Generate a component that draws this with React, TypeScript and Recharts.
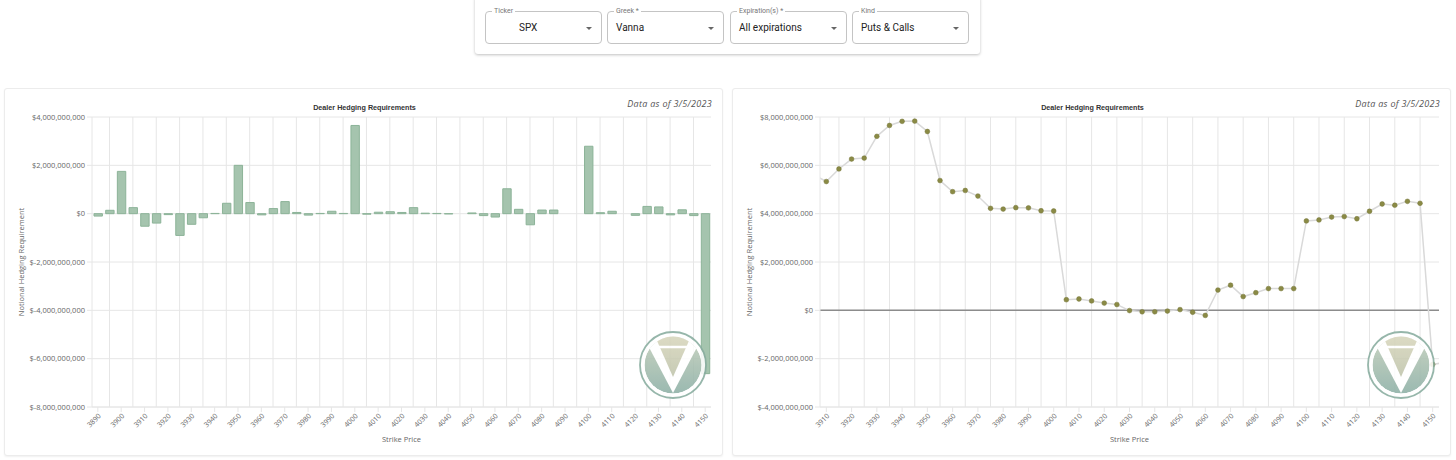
import React from 'react';
import {
  BarChart, Bar, LineChart, Line, XAxis, YAxis, CartesianGrid, ReferenceLine, Label,
} from 'recharts';

// strike prices (left chart: per-strike requirement, right chart: running total)
const barStrikes = [
  3890, 3895, 3900, 3905, 3910, 3915, 3920, 3925, 3930, 3935, 3940, 3945, 3950, 3955,
  3960, 3965, 3970, 3975, 3980, 3985, 3990, 3995, 4000, 4005, 4010, 4015, 4020, 4025,
  4030, 4035, 4040, 4045, 4050, 4055, 4060, 4065, 4070, 4075, 4080, 4085, 4090, 4095,
  4100, 4105, 4110, 4115, 4120, 4125, 4130, 4135, 4140, 4145, 4150,
];
// billions of dollars
const barValues = [
  -0.1, 0.14, 1.75, 0.25, -0.52, -0.39, -0.04, -0.9, -0.44, -0.17, 0.01, 0.43, 2.0, 0.46,
  -0.05, 0.21, 0.5, 0.05, -0.06, 0.01, 0.1, 0.01, 3.65, -0.02, 0.06, 0.08, 0.05, 0.25,
  0.02, 0.01, -0.01, 0.0, 0.03, -0.08, -0.14, 1.03, 0.18, -0.46, 0.15, 0.15, 0.0, 0.0,
  2.79, 0.04, 0.1, 0.0, -0.07, 0.3, 0.28, -0.05, 0.16, -0.08, -6.62,
];
const barTicks = [
  3890, 3900, 3910, 3920, 3930, 3940, 3950, 3960, 3970, 3980, 3990, 4000, 4010, 4020,
  4030, 4040, 4050, 4060, 4070, 4080, 4090, 4100, 4110, 4120, 4130, 4140, 4150,
];
const barGridStrikes = [
  3895, 3905, 3915, 3925, 3935, 3945, 3955, 3965, 3975, 3985, 3995, 4005, 4015, 4025,
  4035, 4045, 4055, 4065, 4075, 4085, 4095, 4105, 4115, 4125, 4135, 4145,
];
const barYTicks = [-8e9, -6e9, -4e9, -2e9, 0, 2e9, 4e9];

const lineStrikes = [
  3905, 3910, 3915, 3920, 3925, 3930, 3935, 3940, 3945, 3950, 3955, 3960, 3965, 3970,
  3975, 3980, 3985, 3990, 3995, 4000, 4005, 4010, 4015, 4020, 4025, 4030, 4035, 4040,
  4045, 4050, 4055, 4060, 4065, 4070, 4075, 4080, 4085, 4090, 4095, 4100, 4105, 4110,
  4115, 4120, 4125, 4130, 4135, 4140, 4145, 4150, 4155,
];
const lineValues = [
  5.62, 5.33, 5.85, 6.26, 6.3, 7.2, 7.65, 7.82, 7.83, 7.4, 5.37, 4.91, 4.96, 4.73,
  4.22, 4.19, 4.25, 4.24, 4.12, 4.11, 0.44, 0.47, 0.39, 0.3, 0.24, -0.01, -0.06, -0.06,
  -0.03, 0.03, -0.08, -0.21, 0.84, 1.04, 0.57, 0.73, 0.9, 0.9, 0.9, 3.7, 3.74, 3.86,
  3.88, 3.79, 4.1, 4.4, 4.35, 4.51, 4.43, -2.24, -2.15,
];
const lineTicks = [
  3910, 3920, 3930, 3940, 3950, 3960, 3970, 3980, 3990, 4000, 4010, 4020, 4030, 4040,
  4050, 4060, 4070, 4080, 4090, 4100, 4110, 4120, 4130, 4140, 4150,
];
const lineGridStrikes = [
  3915, 3925, 3935, 3945, 3955, 3965, 3975, 3985, 3995, 4005, 4015, 4025, 4035, 4045,
  4055, 4065, 4075, 4085, 4095, 4105, 4115, 4125, 4135, 4145,
];
const lineYTicks = [-4e9, -2e9, 0, 2e9, 4e9, 6e9, 8e9];

const barData = barStrikes.map((s, i) => ({ strike: s, value: barValues[i] * 1e9 }));
const lineData = lineStrikes.map((s, i) => ({ strike: s, value: lineValues[i] * 1e9 }));

const FONT = '"Open Sans", "Liberation Sans", sans-serif';
const GRID = '#e6e6e6';
const TXT = '#666';

const money = (v: number) => (v < 0 ? '$-' : '$') + Math.abs(v).toLocaleString('en-US');

const CARD_W = 719;
const CARD_H = 368;
const margin = { top: 29, right: 12, bottom: 0, left: 0 };

// watermark in the lower right corner of each card
const Logo = ({ id }: { id: string }) => (
  <svg width={70} height={70} viewBox="-35 -35 70 70"
    style={{ position: 'absolute', left: 668 - 35, top: 276 - 35, opacity: 0.88 }}>
    <defs>
      <linearGradient id={`teal-${id}`} x1="0" y1="0" x2="0" y2="1">
        <stop offset="0" stopColor="#c2cdb9" />
        <stop offset="1" stopColor="#8db0a6" />
      </linearGradient>
      <linearGradient id={`beige-${id}`} x1="0" y1="0" x2="0" y2="1">
        <stop offset="0" stopColor="#d9d7bd" />
        <stop offset="1" stopColor="#bfc4ab" />
      </linearGradient>
      <clipPath id={`disc-${id}`}>
        <circle r={28.5} />
      </clipPath>
    </defs>
    <circle r={33} fill="#fff" stroke="#88ad9f" strokeWidth={1.8} />
    <g clipPath={`url(#disc-${id})`}>
      <circle r={28.5} fill={`url(#teal-${id})`} />
      <polygon points="-31,-31 0,28 31,-31" fill="#fff" />
      <polygon points="-19,-31 0,12 19,-31" fill={`url(#beige-${id})`} />
      <line x1={-20} y1={-18} x2={20} y2={-18} stroke="#fff" strokeWidth={2.5} />
    </g>
  </svg>
);

const Card = ({ left, id, children }: { left: number; id: string; children: React.ReactNode }) => (
  <div style={{
    position: 'absolute', left, top: 88, width: CARD_W, height: CARD_H, background: '#fff',
    border: '1px solid #ececec', borderRadius: 3, boxShadow: '0 1px 2px rgba(0,0,0,0.06)',
    boxSizing: 'border-box', overflow: 'hidden',
  }}>
    <div style={{
      position: 'absolute', left: 0, width: CARD_W, top: 14, textAlign: 'center',
      fontFamily: '"Liberation Sans", Arial, sans-serif', fontWeight: 700, fontSize: 7.2,
      color: '#333',
    }}>Dealer Hedging Requirements</div>
    <div style={{
      position: 'absolute', right: 10, top: 8, fontFamily: FONT, fontStyle: 'italic',
      fontSize: 9, letterSpacing: 0.3, color: '#555',
    }}>Data as of 3/5/2023</div>
    <div style={{ position: 'absolute', left: -1, top: -1 }}>{children}</div>
    <Logo id={id} />
  </div>
);

const axisTick = { fontSize: 7.5, fill: TXT, fontFamily: FONT };
const labelStyle = { fontSize: 7.5, fill: TXT, fontFamily: FONT };

// strike labels slanted at 45 degrees, ending at the tick
const SlantTick = (props: any) => {
  const { x, y, payload } = props;
  return (
    <g transform={`translate(${x},${y})`}>
      <text x={0} y={0} dy="0.71em" textAnchor="end" transform="rotate(-45)"
        fontSize={7} fill={TXT} fontFamily={FONT}>{payload.value}</text>
    </g>
  );
};

const Select = ({ left, label, value, center }: { left: number; label: string; value: string; center?: boolean }) => (
  <div style={{
    position: 'absolute', left, top: 15, width: 117, height: 33, border: '1px solid #c4c4c4',
    borderRadius: 4, boxSizing: 'border-box', fontFamily: 'Roboto, sans-serif',
  }}>
    <div style={{
      position: 'absolute', left: 6, top: -6, padding: '0 2px', background: '#fff',
      fontSize: 7, color: '#777', lineHeight: '10px',
    }}>{label}</div>
    <div style={{
      position: 'absolute', left: center ? 33 : 8, top: 9, fontSize: 10, color: '#222',
      lineHeight: '14px',
    }}>{value}</div>
    <div style={{
      position: 'absolute', right: 9, top: 15, width: 0, height: 0,
      borderLeft: '3px solid transparent', borderRight: '3px solid transparent',
      borderTop: '3px solid #666',
    }} />
  </div>
);

export default function App() {
  return (
    <div style={{ position: 'absolute', left: 0, top: 0, width: 1456, height: 460, background: '#fff' }}>
      <div style={{
        position: 'absolute', left: 475, top: -4, width: 505, height: 58, background: '#fff',
        borderRadius: 3, boxShadow: '0 1px 3px rgba(0,0,0,0.25)',
      }}>
        <Select left={10} label="Ticker" value="SPX" center />
        <Select left={132} label="Greek *" value="Vanna" />
        <Select left={255} label="Expiration(s) *" value="All expirations" />
        <Select left={377} label="Kind" value="Puts & Calls" />
      </div>

      <Card left={4} id="a">
        <BarChart width={CARD_W} height={CARD_H} data={barData} margin={margin}>
          <CartesianGrid stroke={GRID} verticalValues={barGridStrikes} />
          <XAxis type="number" dataKey="strike" domain={[3887.5, 4152.5]} allowDataOverflow
            ticks={barTicks} interval={0} height={49}
            tick={<SlantTick />} tickSize={5} tickMargin={1} stroke={GRID}>
            <Label value="Strike Price" position="center" dy={7.5} style={labelStyle} />
          </XAxis>
          <YAxis domain={[-8e9, 4e9]} ticks={barYTicks} width={88} tickFormatter={money}
            tick={axisTick} tickSize={5} tickMargin={2} stroke={GRID} interval={0}>
            <Label value="Notional Hedging Requirement" angle={-90} position="center" dx={-27}
              style={labelStyle} />
          </YAxis>
          <Bar dataKey="value" fill="#a5c4ae" stroke="#8cb398" strokeWidth={1} barSize={8.4}
            isAnimationActive={false} />
        </BarChart>
      </Card>

      <Card left={732} id="b">
        <LineChart width={CARD_W} height={CARD_H} data={lineData} margin={margin}>
          <CartesianGrid stroke={GRID} verticalValues={lineGridStrikes} />
          <XAxis type="number" dataKey="strike" domain={[3907.5, 4152.5]} allowDataOverflow
            ticks={lineTicks} interval={0} height={49}
            tick={<SlantTick />} tickSize={5} tickMargin={1} stroke={GRID}>
            <Label value="Strike Price" position="center" dy={7.5} style={labelStyle} />
          </XAxis>
          <YAxis domain={[-4e9, 8e9]} ticks={lineYTicks} width={88} tickFormatter={money}
            tick={axisTick} tickSize={5} tickMargin={2} stroke={GRID} interval={0}>
            <Label value="Notional Hedging Requirement" angle={-90} position="center" dx={-27}
              style={labelStyle} />
          </YAxis>
          <ReferenceLine y={0} stroke="#8c8c8c" strokeWidth={1.5} />
          <Line type="linear" dataKey="value" stroke="#d9d9d9" strokeWidth={1.5}
            dot={{ r: 2.4, fill: '#8a8a45', stroke: '#77773a', strokeWidth: 0.5 }}
            isAnimationActive={false} />
        </LineChart>
      </Card>
    </div>
  );
}
